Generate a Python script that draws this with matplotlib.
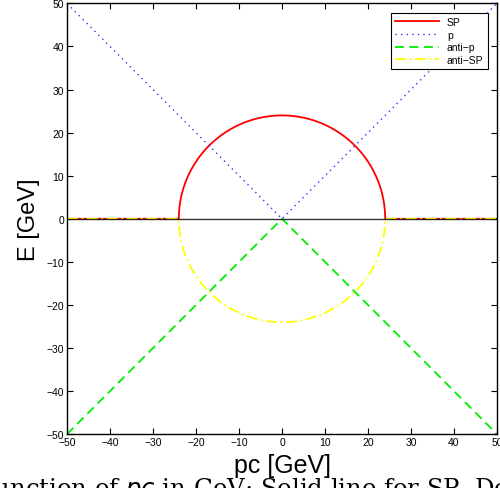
import numpy as np
import matplotlib
matplotlib.use('Agg')
import matplotlib.pyplot as plt

# values
mass = 24.0          # radius of the SP circle [GeV]
pc_range = [-50, 50]
ticks = [-50, -40, -30, -20, -10, 0, 10, 20, 30, 40, 50]
labels = ['SP', 'p', 'anti\u2212p', 'anti\u2212SP']

pc = np.linspace(pc_range[0], pc_range[1], 2001)
inside = np.clip(mass**2 - pc**2, 0, None)
E_sp = np.sqrt(inside)
E_p = np.abs(pc)

plt.rcParams['font.family'] = ['Liberation Sans', 'DejaVu Sans']
plt.rcParams['axes.unicode_minus'] = True

fig = plt.figure(figsize=(5.0, 4.89), dpi=100)
ax = fig.add_axes([0.134, 0.110, 0.860, 0.881])

ax.plot(pc, E_sp, color='#ff0000', lw=1.3, label=labels[0])
ax.plot(pc, E_p, color='#3030ff', lw=1.0, ls=(0, (1, 3)), label=labels[1])
ax.plot(pc, -E_p, color='#00ee00', lw=1.3, ls=(0, (5, 3)), label=labels[2])
ax.plot(pc, -E_sp, color='#ffff00', lw=1.3, ls=(0, (6, 2, 1, 2)), label=labels[3])
ax.axhline(0, color='black', lw=1.0, alpha=0.8)

ax.set_xlim(pc_range)
ax.set_ylim(pc_range)
ax.set_xticks(ticks)
ax.set_yticks(ticks)
ax.tick_params(direction='in', length=4, width=0.8, labelsize=7.5,
               top=True, right=True, pad=2)
for s in ax.spines.values():
    s.set_linewidth(1.0)

ax.set_xlabel('pc [GeV]', fontsize=18, labelpad=4)
ax.set_ylabel('E [GeV]', fontsize=17, labelpad=5)

leg = ax.legend(loc='upper right', fontsize=7.5, fancybox=False,
                edgecolor='black', framealpha=1, borderaxespad=0.9,
                handlelength=4.2, labelspacing=0.25, borderpad=0.4)
leg.get_frame().set_linewidth(0.8)

fig.text(-0.03, -0.014, 'function of $pc$ in GeV; Solid line for SP. De',
         fontsize=17.5, family='DejaVu Serif', va='baseline', ha='left')

fig.savefig('out.png', dpi=100)
